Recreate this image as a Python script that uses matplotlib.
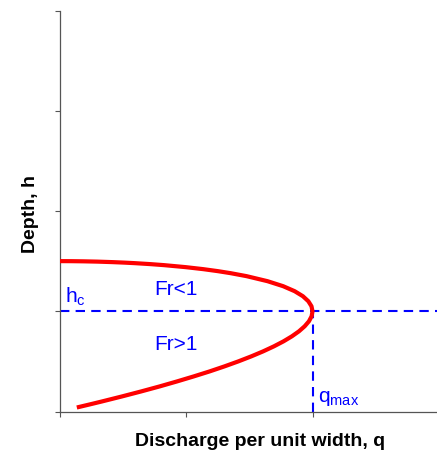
import matplotlib
matplotlib.use("Agg")
import matplotlib.pyplot as plt

plt.rcParams['font.family'] = ['Liberation Sans', 'DejaVu Sans']

# Depth values along the curve and matching discharge values
depth = [0.04, 0.07, 0.10, 0.15, 0.20, 0.25, 0.30, 0.35, 0.40, 0.45, 0.50, 0.55,
         0.60, 0.65, 0.70, 0.75, 0.80, 0.85, 0.90, 0.95, 1.00, 1.05, 1.10, 1.15,
         1.20, 1.25, 1.30, 1.35, 1.38, 1.40, 1.42, 1.44, 1.46, 1.47, 1.48, 1.485,
         1.49, 1.495, 1.498, 1.4995, 1.50]
discharge = [0.137, 0.237, 0.335, 0.493, 0.645, 0.791, 0.929, 1.061, 1.187, 1.304,
             1.414, 1.516, 1.610, 1.695, 1.771, 1.837, 1.893, 1.938, 1.972, 1.993,
             2.000, 1.992, 1.967, 1.924, 1.859, 1.768, 1.644, 1.479, 1.352, 1.252,
             1.136, 0.997, 0.826, 0.720, 0.592, 0.514, 0.421, 0.299, 0.189, 0.095,
             0.000]

h_c = 1.0
q_max = 2.0
x_ticks = [0, 1, 2, 3]
y_ticks = [0, 1, 2, 3, 4]

fig = plt.figure(figsize=(4.37, 4.50), dpi=100)
ax = fig.add_axes([59.5 / 437, 1 - 411.5 / 450, 379.5 / 437, 401 / 450])

ax.plot(discharge, depth, color='#ff0000', lw=3.0, solid_capstyle='butt',
        solid_joinstyle='round', zorder=3)
ax.plot([0, 3.2], [h_c, h_c], color='#0000ff', lw=1.5, ls=(0, (4.5, 3.0)), zorder=2)
ax.plot([q_max, q_max], [0, h_c], color='#0000ff', lw=1.5, ls=(0, (4.5, 3.0)), zorder=2)

ax.set_xlim(0, 3)
ax.set_ylim(0, 4)
ax.set_xticks(x_ticks)
ax.set_yticks(y_ticks)
ax.set_xticklabels([])
ax.set_yticklabels([])
ax.tick_params(direction='out', length=3.5, width=0.8, colors='#555555')
for s in ['top', 'right']:
    ax.spines[s].set_visible(False)
for s in ['left', 'bottom']:
    ax.spines[s].set_color('#555555')
    ax.spines[s].set_linewidth(0.9)

blue = '#0000ff'
ax.text(0.92, 1.22, 'Fr<1', color=blue, fontsize=15, ha='center', va='center')
ax.text(0.92, 0.67, 'Fr>1', color=blue, fontsize=15, ha='center', va='center')
ax.text(0.04, 1.09, r'h$_\mathregular{c}$', color=blue, fontsize=15, ha='left', va='baseline')
ax.text(2.04, 0.09, r'q$_\mathregular{max}$', color=blue, fontsize=15, ha='left', va='baseline')

fig.text(260.5 / 437, 1 - 446 / 450, 'Discharge per unit width, q', fontsize=14,
         fontweight='bold', ha='center', va='baseline')
fig.text(31 / 437, 1 - 214 / 450, 'Depth, h', fontsize=14, fontweight='bold',
         rotation=90, ha='center', va='center')

fig.savefig('out.png', dpi=100)
